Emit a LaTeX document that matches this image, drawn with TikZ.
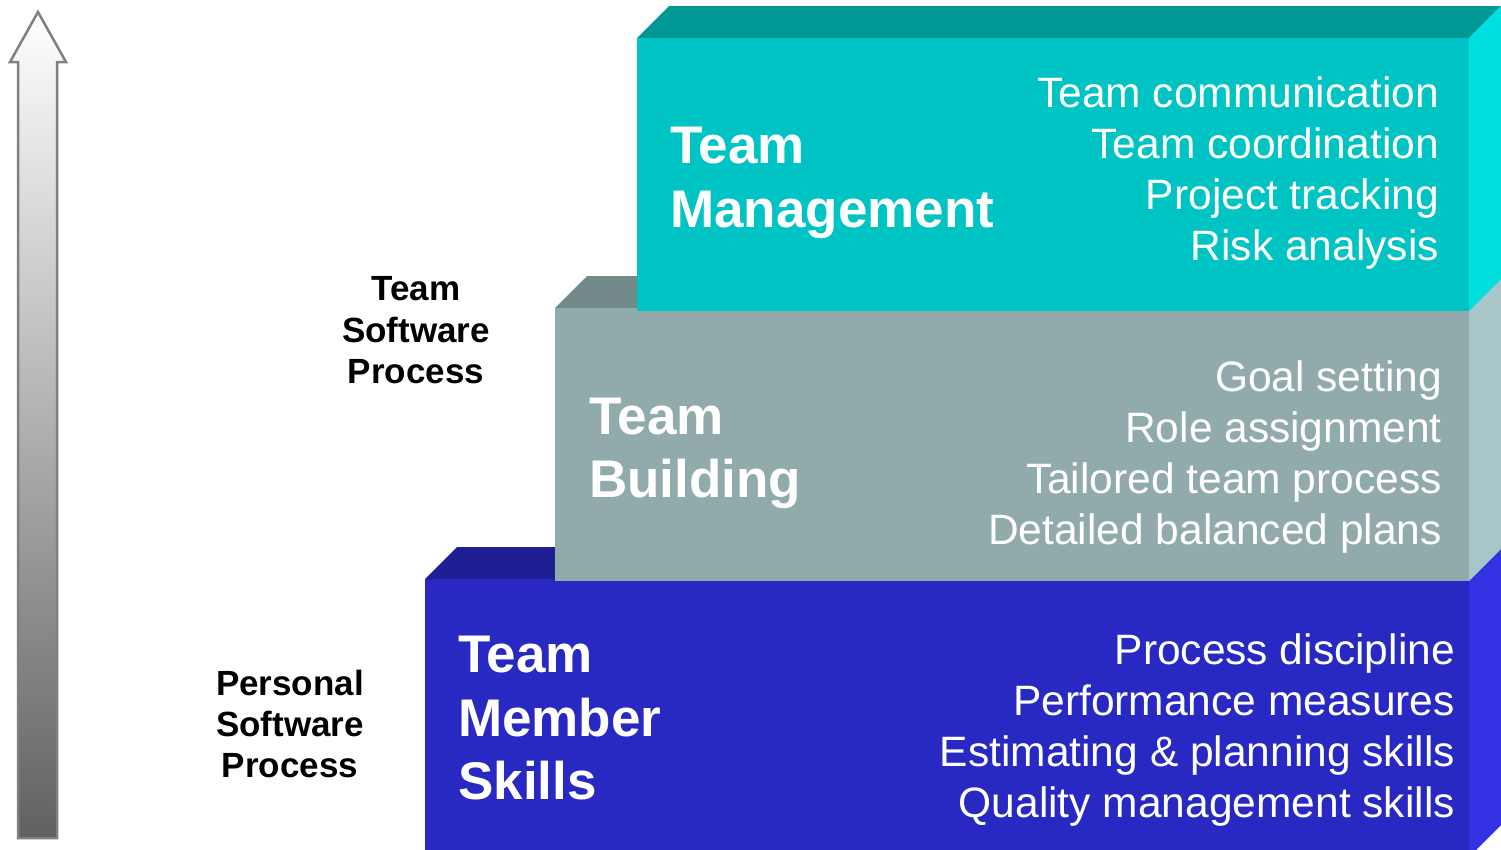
\documentclass[tikz,border=0pt]{standalone}
\usepackage{fontspec}
\setmainfont{Liberation Sans}
\definecolor{tealF}{HTML}{00C3C3}
\definecolor{tealT}{HTML}{009894}
\definecolor{tealR}{HTML}{00DFDF}
\definecolor{grayF}{HTML}{91AAAB}
\definecolor{grayT}{HTML}{728A8A}
\definecolor{grayR}{HTML}{A8C5C7}
\definecolor{blueF}{HTML}{2828C3}
\definecolor{blueT}{HTML}{1F1F93}
\definecolor{blueR}{HTML}{3232E4}
\tikzset{
  listtxt/.style={anchor=base east, inner sep=0pt, text=white, font=\fontsize{42.5}{50}\selectfont},
  titletxt/.style={anchor=base west, inner sep=0pt, text=white, font=\fontsize{53}{64}\selectfont\bfseries},
  sidetxt/.style={anchor=base, inner sep=0pt, text=black, font=\fontsize{35}{42}\selectfont\bfseries},
}
\begin{document}
\begin{tikzpicture}[x=1pt,y=-1pt]
\useasboundingbox (0,0) rectangle (1501,849);
\clip (0,0) rectangle (1501,849);
% arrow
\shadedraw[top color=white, bottom color=black!62, draw=black!50, line width=2.5pt]
  (38,12) -- (66,62) -- (57,62) -- (57,838) -- (18,838) -- (18,62) -- (10,62) -- cycle;
% blue block (bottom)
\fill[blueT] (425,579) -- (457,547) -- (1501,547) -- (1469,579) -- cycle;
\fill[blueR] (1469,579) -- (1501,547) -- (1501,825) -- (1469,857) -- cycle;
\fill[blueF] (425,579) rectangle (1469,857);
% gray block (middle)
\fill[grayT] (555,308) -- (587,276) -- (1501,276) -- (1469,308) -- cycle;
\fill[grayR] (1469,308) -- (1501,276) -- (1501,549) -- (1469,581) -- cycle;
\fill[grayF] (555,308) rectangle (1469,581);
% teal block (top)
\fill[tealT] (637,38) -- (669,6) -- (1501,6) -- (1469,38) -- cycle;
\fill[tealR] (1469,38) -- (1501,6) -- (1501,279) -- (1469,311) -- cycle;
\fill[tealF] (637,38) rectangle (1469,311);
% teal texts
\node[titletxt] (tm1) at (670,163) {Team};
\node[titletxt] (tm2) at (670,227) {Management};
\node[listtxt] (tl1) at (1439,107) {Team communication};
\node[listtxt] (tl2) at (1439,158) {Team coordination};
\node[listtxt] (tl3) at (1439,209) {Project tracking};
\node[listtxt] (tl4) at (1439,260) {Risk analysis};
% gray texts
\node[titletxt] (tb1) at (589,434) {Team};
\node[titletxt] (tb2) at (589,497) {Building};
\node[listtxt] (gl1) at (1442,391) {Goal setting};
\node[listtxt] (gl2) at (1442,442) {Role assignment};
\node[listtxt] (gl3) at (1442,493) {Tailored team process};
\node[listtxt] (gl4) at (1442,544) {Detailed balanced plans};
% blue texts
\node[titletxt] (ts1) at (458,672) {Team};
\node[titletxt] (ts2) at (458,736) {Member};
\node[titletxt] (ts3) at (458,799) {Skills};
\node[listtxt] (bl1) at (1455,664) {Process discipline};
\node[listtxt] (bl2) at (1455,715) {Performance measures};
\node[listtxt] (bl3) at (1455,766) {Estimating \& planning skills};
\node[listtxt] (bl4) at (1455,817) {Quality management skills};
% side labels
\node[sidetxt] (tsp1) at (416,300) {Team};
\node[sidetxt] (tsp2) at (416,342) {Software};
\node[sidetxt] (tsp3) at (416,383) {Process};
\node[sidetxt] (psp1) at (290,695) {Personal};
\node[sidetxt] (psp2) at (290,736) {Software};
\node[sidetxt] (psp3) at (290,777) {Process};
\end{tikzpicture}
\end{document}
